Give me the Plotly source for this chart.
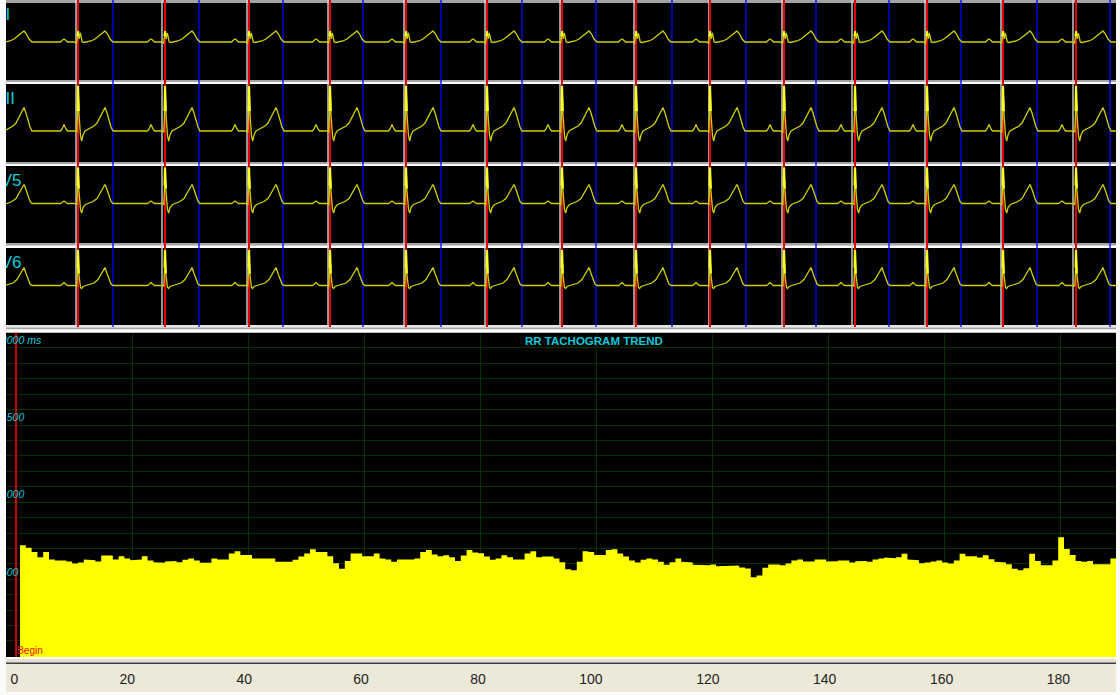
import plotly.graph_objects as go

W, H = 1120, 695

# ---------------- ECG strip data (x in samples, 1 sample ~ 6.25 ms) ----------------
LEADS = ["II", "III", "V5", "V6"]

# R-peak positions; the first and last beats lie just outside the visible strip
R_PEAKS = [-9, 72, 159, 243, 324, 400, 481, 556, 630, 704, 778, 849, 921, 997, 1070, 1145]
ONSET_MARKS = [70, 156, 241, 322, 398, 479, 554, 628, 703, 776, 846, 919, 995, 1067]
R_MARKS = [72, 159, 243, 324, 400, 481, 556, 630, 704, 778, 849, 921, 997, 1070]
T_END_MARKS = [107, 193, 277, 357, 435, 516, 590, 666, 740, 810, 883, 955, 1031, 1104]

# beat templates read from the strips: offset from R (samples) and amplitude (arb. units)
LEAD1_DT = [-17.5, -15.5, -14, -12.5, -10.5, -3, -1.5, -0.5, 0.3, 1.2, 2.2, 3.0, 4.2, 6, 9, 13, 17, 21, 24, 27, 29.5, 32, 35]
LEAD1_AMP = [0, 2, 3, 2, 0, 0, -1.5, 6, 11, 3, 9, 6, 0, -0.5, 0, 1, 3, 6, 9, 11, 8, 3, 0]
LEAD2_DT = [-17.5, -16, -14, -12, -10.5, -3, -1.2, -0.4, 0, 0.8, 2.5, 3.7, 5, 7, 10, 13, 16, 19, 22, 25, 27, 29, 31, 33, 35]
LEAD2_AMP = [0, 2, 6.5, 2, 0, 0, -1, 20, 45, 20, -5, -10, -4, 0, 1.5, 3, 5, 8, 14, 20, 23.5, 18, 10, 4, 0]
LEAD3_DT = [-17.5, -16, -14, -12, -10.5, -3, -1.2, -0.4, 0, 0.8, 2.5, 3.7, 5, 7.5, 12, 15, 19, 22, 25, 27, 29, 31, 33, 35]
LEAD3_AMP = [0, 1, 2.5, 1, 0, 0, -1, 18, 36, 15, -6, -9.5, -4, -1, 0.5, 2, 5, 10, 16, 19, 14, 7, 2, 0]
LEAD4_DT = [-17.5, -16, -14, -12, -10.5, -3, -1.2, -0.4, 0, 0.8, 2.5, 3.5, 5, 8, 12, 16, 20, 23, 25.5, 27, 29, 31, 33, 35]
LEAD4_AMP = [0, 1, 3, 1, 0, 0, -0.5, 18, 35.5, 12, -2, -3, -1, 0, 1, 2.5, 6, 11, 16, 18, 12, 6, 1.5, 0]

TEMPLATES = [(LEAD1_DT, LEAD1_AMP), (LEAD2_DT, LEAD2_AMP), (LEAD3_DT, LEAD3_AMP), (LEAD4_DT, LEAD4_AMP)]

# ---------------- RR tachogram data ----------------
RR_TITLE = "RR TACHOGRAM TREND"
RR_MS = [
    621, 604, 576, 543, 576, 528, 522, 522, 515, 502, 509, 528, 524, 515, 554, 554, 528, 550, 535, 524,
    528, 550, 522, 511, 507, 515, 519, 511, 526, 535, 522, 507, 507, 535, 528, 528, 567, 582, 558, 558,
    535, 535, 535, 535, 513, 513, 513, 526, 548, 567, 595, 576, 576, 550, 504, 468, 519, 567, 567, 550,
    550, 567,
    535, 528, 513, 528, 528, 528, 535, 576, 589, 561, 550, 556, 543, 519, 554, 589, 574, 569, 548, 526,
    535, 556, 543, 528, 528, 567, 582, 543, 548, 548, 535, 511, 465, 459, 513, 582, 576, 558, 558, 589,
    595, 567, 548, 522, 509, 526, 535, 528, 513, 494, 511, 535, 513, 509, 494, 491, 491, 496, 485, 485,
    489, 489, 476,
    470, 413, 424, 474, 496, 496, 491, 502, 522, 528, 515, 515, 528, 528, 515, 517, 522, 522, 509, 517,
    519, 513, 528, 535, 541, 537, 543, 565, 528, 524, 504, 509, 515, 522, 509, 502, 522, 565, 550, 550,
    541, 556, 530, 513, 509, 498, 468, 459, 472, 565, 519, 491, 491, 522, 673, 597, 558, 519, 513, 519,
    498, 498, 498, 535,
]
BEAT_INDEX = list(range(1, len(RR_MS) + 1))
Y_LABEL_VALUES = [2000, 1500, 1000, 500]
Y_LABEL_TEXTS = ["2000 ms", "1500", "1000", "500"]
RULER_TICKS = [0, 20, 40, 60, 80, 100, 120, 140, 160, 180]

# ---------------- layout geometry ----------------
def pyf(py):
    return 1 - py / H

XDOM = [6 / W, 1116 / W]
STRIP_TOP = [3, 84, 166, 248]
STRIP_BOT = [80, 162, 243, 325]
STRIP_YR = [[-38, 39], [-31, 47], [-39.5, 37.5], [-39.5, 37.5]]
LABEL_Y = [35, 40, 30.5, 30.5]
LABEL_X = -5.3
Y_MIN, Y_MAX = -104, 2000
BAR_LEFT, BAR_RIGHT = -0.31, 0.69

FONT = "Liberation Sans, Arial, sans-serif"
CYAN = "#10C8D8"

fig = go.Figure()

for i, (name, (dts, amps)) in enumerate(zip(LEADS, TEMPLATES)):
    yref = "y" if i == 0 else f"y{i + 1}"
    xs, ys, qx, qy = [], [], [], []
    for r in R_PEAKS:
        for dt, a in zip(dts, amps):
            xs.append(r + dt)
            ys.append(a)
            if -0.5 <= dt <= 0.9:
                qx.append(r + dt)
                qy.append(a)
        qx.append(None)
        qy.append(None)
    fig.add_trace(go.Scatter(x=xs, y=ys, mode="lines", xaxis="x", yaxis=yref,
                             line=dict(color="#CFCF00", width=1.3), hoverinfo="skip"))
    fig.add_trace(go.Scatter(x=qx, y=qy, mode="lines", xaxis="x", yaxis=yref,
                             line=dict(color="#FFFF20", width=2.2), hoverinfo="skip"))
    fig.add_trace(go.Scatter(x=[LABEL_X], y=[LABEL_Y[i]], mode="text", text=[name],
                             textposition="bottom right", xaxis="x", yaxis=yref, cliponaxis=True,
                             textfont=dict(family=FONT, size=17, color=CYAN), hoverinfo="skip"))

# tachogram: adjacent bars drawn as one stepped filled outline (no seams between bars)
step_x = [BEAT_INDEX[0] + BAR_LEFT]
step_y = [Y_MIN]
for b, v in zip(BEAT_INDEX, RR_MS):
    step_x += [b + BAR_LEFT, b + BAR_RIGHT]
    step_y += [v, v]
step_x.append(BEAT_INDEX[-1] + BAR_RIGHT)
step_y.append(Y_MIN)
fig.add_trace(go.Scatter(x=step_x, y=step_y, mode="lines", fill="toself", fillcolor="#FFFF00",
                         line=dict(width=0, color="#FFFF00"), xaxis="x2", yaxis="y5",
                         hoverinfo="skip"))
# y labels, clipped by the panel edge
fig.add_trace(go.Scatter(x=[-2.6] * len(Y_LABEL_VALUES), y=[v - 25 for v in Y_LABEL_VALUES],
                         mode="text", text=Y_LABEL_TEXTS, textposition="bottom right",
                         xaxis="x2", yaxis="y5", cliponaxis=True,
                         textfont=dict(family=FONT, size=10.5, color=CYAN, style="italic"),
                         hoverinfo="skip"))
fig.add_trace(go.Scatter(x=[0.2], y=[-68], mode="text", text=["Begin"], textposition="middle right",
                         xaxis="x2", yaxis="y5", cliponaxis=True,
                         textfont=dict(family=FONT, size=10, color="#E81010"), hoverinfo="skip"))
# ruler axis holder
fig.add_trace(go.Scatter(x=[None], y=[None], xaxis="x3", yaxis="y5", hoverinfo="skip"))

layout = dict(
    width=W, height=H, margin=dict(l=0, r=0, t=0, b=0),
    paper_bgcolor="#FAFAFA", plot_bgcolor="#000000", showlegend=False,
    font=dict(family=FONT),
    xaxis=dict(domain=XDOM, range=[0, 1110], visible=False, anchor="y4"),
    xaxis2=dict(domain=XDOM, range=[-1.724, 189.655], anchor="y5", showgrid=True,
                gridcolor="#003300", gridwidth=1, dtick=20, tick0=0, showticklabels=False,
                ticks="", zeroline=False, showline=False),
    yaxis5=dict(domain=[pyf(657), pyf(332.5)], range=[Y_MIN, Y_MAX], anchor="x2", showgrid=True,
                gridcolor="#003300", gridwidth=1, dtick=100, tick0=0, showticklabels=False,
                ticks="", zeroline=False, showline=False),
    xaxis3=dict(overlaying="x2", anchor="free", position=pyf(669), side="bottom",
                range=[-2.09, 187.85], tickmode="array", tickvals=RULER_TICKS,
                ticktext=[str(t) for t in RULER_TICKS], ticks="", showgrid=False,
                zeroline=False, showline=False, ticklabelposition="outside left",
                tickfont=dict(family=FONT, size=14, color="#1E1E1E")),
)
for i in range(4):
    key = "yaxis" if i == 0 else f"yaxis{i + 1}"
    layout[key] = dict(domain=[pyf(STRIP_BOT[i]), pyf(STRIP_TOP[i])], range=STRIP_YR[i],
                       visible=False, anchor="x")


def prect(py0, py1, color, px0=6, px1=1116):
    return dict(type="rect", xref="paper", yref="paper", x0=px0 / W, x1=px1 / W,
                y0=pyf(py1), y1=pyf(py0), fillcolor=color, line=dict(width=0), layer="below")


shapes = [
    prect(0, 3, "#A4A4A4"),
    prect(80, 82.3, "#A4A4A4"), prect(82.3, 84, "#FFFFFF"),
    prect(162, 164.3, "#A4A4A4"), prect(164.3, 166, "#FFFFFF"),
    prect(243, 245.7, "#A4A4A4"), prect(245.7, 248, "#FFFFFF"),
    prect(325, 327.5, "#E6E6E6"), prect(327.5, 329.5, "#A4A4A4"), prect(329.5, 332.5, "#FFFFFF"),
    prect(657, 659, "#FFFFFF"), prect(659, 662.5, "#E2E0D6"), prect(662.5, 664, "#3C3C3C"),
    prect(664, 692, "#ECE9D8"),
]
for xs_list, color, width in [(ONSET_MARKS, "#D4D4D4", 1.4), (R_MARKS, "#E00000", 2),
                              (T_END_MARKS, "#0000FF", 1.3)]:
    for v in xs_list:
        shapes.append(dict(type="line", xref="x", yref="paper", x0=v, x1=v, y0=pyf(327),
                           y1=1, line=dict(color=color, width=width), layer="below"))
shapes.append(dict(type="line", xref="x2", yref="y5", x0=0, x1=0, y0=Y_MIN, y1=Y_MAX,
                   line=dict(color="#C00000", width=2), layer="between"))
layout["shapes"] = shapes
layout["annotations"] = [dict(text="<b>" + RR_TITLE + "</b>", xref="paper", yref="paper",
                              x=593.7 / W, y=pyf(341), xanchor="center", yanchor="middle",
                              showarrow=False, font=dict(family=FONT, size=11.5, color=CYAN))]

fig.update_layout(**layout)
fig.write_html("out.html")
